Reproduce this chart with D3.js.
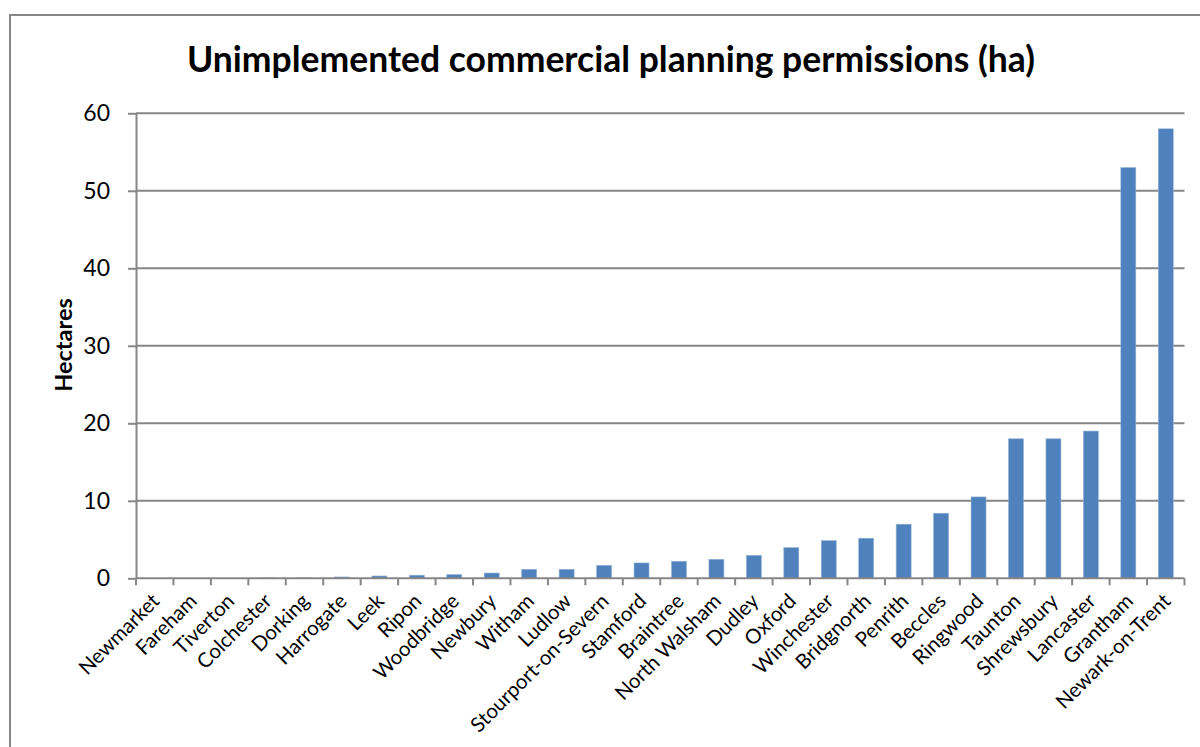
<!DOCTYPE html>
<html>
<head>
<meta charset="utf-8">
<script src="https://cdn.jsdelivr.net/npm/d3@7"></script>
<style>
  html, body { margin: 0; padding: 0; background: #fff; }
  svg { display: block; }
  text { font-family: Lato, "Open Sans", sans-serif; fill: #000; }
</style>
</head>
<body>
<svg id="chart" width="1200" height="747"></svg>
<script>
// Towns, ordered from smallest to largest stock of permissions
const towns = [
  "Newmarket", "Fareham", "Tiverton", "Colchester", "Dorking", "Harrogate",
  "Leek", "Ripon", "Woodbridge", "Newbury", "Witham", "Ludlow",
  "Stourport-on-Severn", "Stamford", "Braintree", "North Walsham", "Dudley",
  "Oxford", "Winchester", "Bridgnorth", "Penrith", "Beccles", "Ringwood",
  "Taunton", "Shrewsbury", "Lancaster", "Grantham", "Newark-on-Trent"
];

// Unimplemented commercial planning permissions, hectares
const hectares = [
  0, 0, 0, 0.05, 0.05, 0.17,
  0.3, 0.4, 0.48, 0.68, 1.16, 1.16,
  1.68, 1.98, 2.2, 2.45, 2.97,
  3.96, 4.86, 5.17, 6.98, 8.4, 10.5,
  18, 18, 19, 53, 58
];

const yTicks = [0, 10, 20, 30, 40, 50, 60];

const chartTitle = "Unimplemented commercial planning permissions (ha)";
const yTitle = "Hectares";

const svg = d3.select("#chart");
const grey = "#868686";

// Outer chart frame (runs off the right and bottom edges)
svg.append("rect")
  .attr("x", 10).attr("y", 15)
  .attr("width", 1250).attr("height", 800)
  .attr("fill", "none")
  .attr("stroke", grey)
  .attr("stroke-width", 2);

const plot = { left: 136, right: 1184.5, top: 113.3, bottom: 578.3 };

const x = d3.scaleBand()
  .domain(towns)
  .range([plot.left, plot.right])
  .paddingInner(0.6)
  .paddingOuter(0.3);

const y = d3.scaleLinear()
  .domain([0, 60])
  .range([plot.bottom, plot.top]);

// Horizontal gridlines
svg.append("g")
  .selectAll("line")
  .data(yTicks.filter(d => d > 0))
  .join("line")
  .attr("x1", plot.left).attr("x2", plot.right)
  .attr("y1", d => y(d)).attr("y2", d => y(d))
  .attr("stroke", grey)
  .attr("stroke-width", 2);

// Bars
svg.append("g")
  .selectAll("rect")
  .data(towns.map((t, i) => ({ town: t, value: hectares[i] })))
  .join("rect")
  .attr("x", d => x(d.town))
  .attr("width", x.bandwidth())
  .attr("y", d => y(d.value))
  .attr("height", d => y(0) - y(d.value))
  .attr("fill", "#4F81BD")
  .attr("stroke", "#95B3D7")
  .attr("stroke-width", 0.6);

// Y axis
const yAxis = svg.append("g")
  .attr("transform", `translate(${plot.left},0)`)
  .call(d3.axisLeft(y).tickValues(yTicks).tickSize(8).tickPadding(18).tickSizeOuter(0));
yAxis.select(".domain").attr("stroke", grey).attr("stroke-width", 2);
yAxis.selectAll(".tick line").attr("stroke", grey).attr("stroke-width", 2);
yAxis.selectAll(".tick text")
  .attr("font-family", "Lato, sans-serif")
  .attr("font-size", 23)
  .attr("fill", "#000");

// X axis with boundary ticks between categories
const xAxisG = svg.append("g")
  .attr("transform", `translate(0,${plot.bottom})`);
xAxisG.append("line")
  .attr("x1", plot.left).attr("x2", plot.right)
  .attr("stroke", grey).attr("stroke-width", 2);
const boundaries = d3.range(towns.length + 1).map(i => plot.left + (plot.right - plot.left) * i / towns.length);
xAxisG.selectAll("line.tick")
  .data(boundaries)
  .join("line")
  .attr("class", "tick")
  .attr("x1", d => d).attr("x2", d => d)
  .attr("y1", 0).attr("y2", 7)
  .attr("stroke", grey).attr("stroke-width", 2);

// Category labels rotated 45°
xAxisG.selectAll("text")
  .data(towns)
  .join("text")
  .attr("transform", d => `translate(${x(d) + x.bandwidth() / 2 + 1},${19}) rotate(-45)`)
  .attr("text-anchor", "end")
  .attr("dy", "0.35em")
  .attr("font-size", 20.4)
  .text(d => d);

// Titles
svg.append("text")
  .attr("x", 611).attr("y", 72)
  .attr("text-anchor", "middle")
  .attr("font-size", 35.5)
  .attr("font-weight", "bold")
  .text(chartTitle);

svg.append("text")
  .attr("transform", "translate(72,345) rotate(-90)")
  .attr("text-anchor", "middle")
  .attr("font-size", 23.5)
  .attr("font-weight", "bold")
  .text(yTitle);
</script>
</body>
</html>
